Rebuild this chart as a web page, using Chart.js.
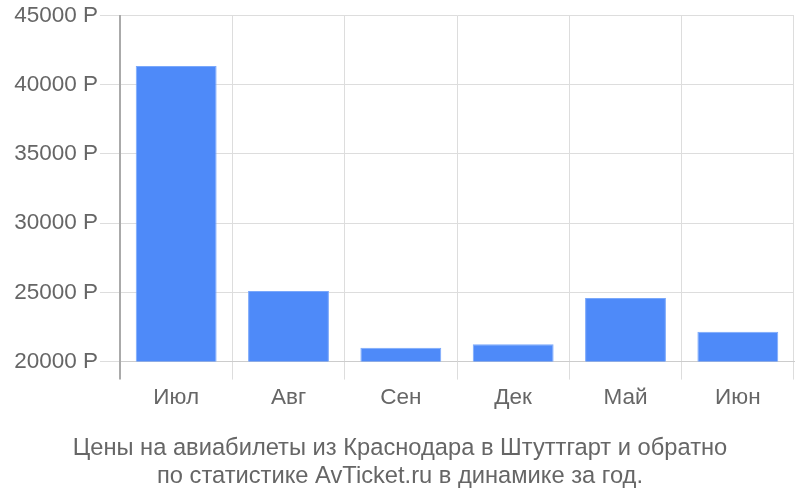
<!DOCTYPE html>
<html>
<head>
<meta charset="utf-8">
<script src="https://cdn.jsdelivr.net/npm/chart.js@4/dist/chart.umd.min.js"></script>
<style>
html,body{margin:0;padding:0;background:#fff;}
#wrap{width:800px;height:500px;position:relative;}
</style>
</head>
<body>
<div id="wrap"><canvas id="c" width="800" height="500"></canvas></div>
<script>
const categories = ["Июл", "Авг", "Сен", "Дек", "Май", "Июн"];
const prices = [41350, 25100, 21000, 21250, 24600, 22150];
const titleLines = ["Цены на авиабилеты из Краснодара в Штуттгарт и обратно", "по статистике AvTicket.ru в динамике за год."];

Chart.defaults.font.family = "'Liberation Sans', Arial, sans-serif";
Chart.defaults.color = "#666";

const centerTitle = {
  id: "centerTitle",
  afterLayout(chart) {
    const t = chart.titleBlock;
    if (t) { t.left = 0; t.right = chart.width; t.width = chart.width; }
  }
};

new Chart(document.getElementById("c"), {
  type: "bar",
  plugins: [centerTitle],
  data: {
    labels: categories,
    datasets: [{
      data: prices,
      backgroundColor: "#4e8af9",
      borderColor: "#7aa8fb",
      borderWidth: 1
    }]
  },
  options: {
    responsive: false,
    animation: false,
    layout: { padding: { left: 0, right: 6, top: 2, bottom: 7 } },
    plugins: {
      legend: { display: false },
      tooltip: { enabled: false },
      title: {
        display: true,
        position: "bottom",
        text: titleLines,
        color: "#666",
        font: { size: 23.7, weight: "normal", lineHeight: 1.19 },
        padding: { top: 18, bottom: 2 }
      }
    },
    scales: {
      x: {
        grid: {
          color: c => c.index === 0 ? "#aaa" : "#ddd",
          lineWidth: c => c.index === 0 ? 2 : 1,
          tickLength: 18,
          offset: true
        },
        border: { color: "#ccc" },
        ticks: { font: { size: 22.5 }, color: "#666", padding: 5 }
      },
      y: {
        min: 20000,
        max: 45000,
        afterFit: s => { s.width = 120; },
        ticks: {
          stepSize: 5000,
          font: { size: 22.5 },
          color: "#666",
          padding: 2,
          callback: v => v + " Р"
        },
        grid: { color: "#ddd", lineWidth: 1, tickLength: 20 },
        border: { color: "#aaa", width: 2 }
      }
    }
  }
});
</script>
</body>
</html>
